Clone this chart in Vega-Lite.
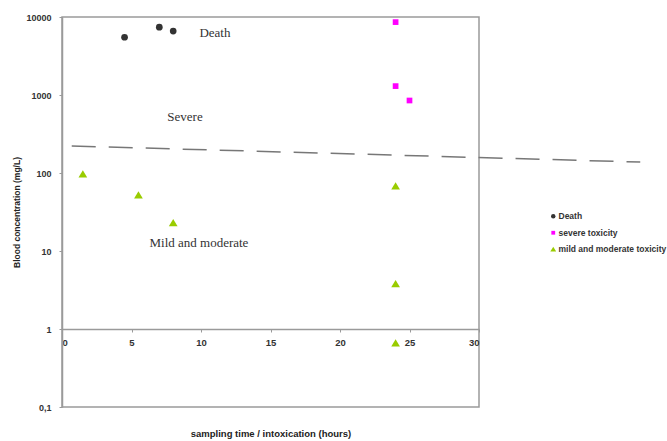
{
  "$schema": "https://vega.github.io/schema/vega-lite/v6.json",
  "width": 417,
  "height": 390,
  "autosize": {"type": "none"},
  "padding": {"left": 62, "top": 17, "right": 188, "bottom": 34},
  "background": "white",
  "config": {
    "view": {"stroke": "#9a9a9a", "strokeWidth": 1.5},
    "axis": {
      "grid": false,
      "domainColor": "#9a9a9a",
      "domainWidth": 1.5,
      "tickColor": "#9a9a9a",
      "labelFont": "Liberation Sans",
      "labelFontWeight": "bold",
      "labelColor": "#333333",
      "titleFont": "Liberation Sans",
      "titleFontWeight": "bold",
      "titleColor": "#222222"
    }
  },
  "datasets": {
    "points": [
      {"series": "Death", "time": 4.5, "conc": 5500},
      {"series": "Death", "time": 7.0, "conc": 7400},
      {"series": "Death", "time": 8.0, "conc": 6600},
      {"series": "severe toxicity", "time": 24.0, "conc": 8600},
      {"series": "severe toxicity", "time": 24.0, "conc": 1300},
      {"series": "severe toxicity", "time": 25.0, "conc": 850},
      {"series": "mild and moderate toxicity", "time": 1.5, "conc": 97},
      {"series": "mild and moderate toxicity", "time": 5.5, "conc": 52},
      {"series": "mild and moderate toxicity", "time": 8.0, "conc": 23},
      {"series": "mild and moderate toxicity", "time": 24.0, "conc": 68},
      {"series": "mild and moderate toxicity", "time": 24.0, "conc": 3.8},
      {"series": "mild and moderate toxicity", "time": 24.0, "conc": 0.66}
    ],
    "threshold": [
      {"time": 0.7, "conc": 222},
      {"time": 41.6, "conc": 138}
    ],
    "labels": [
      {"label": "Death", "time": 11.0, "conc": 6200},
      {"label": "Severe", "time": 8.85, "conc": 525},
      {"label": "Mild and moderate", "time": 9.85, "conc": 12.6}
    ]
  },
  "layer": [
    {
      "data": {"name": "threshold"},
      "mark": {"type": "line", "strokeDash": [24, 13], "color": "#777777", "strokeWidth": 1.5, "clip": false},
      "encoding": {
        "x": {"field": "time", "type": "quantitative"},
        "y": {"field": "conc", "type": "quantitative"}
      }
    },
    {
      "data": {"name": "points"},
      "mark": {"type": "point", "filled": true, "opacity": 1, "size": 45},
      "encoding": {
        "x": {
          "field": "time",
          "type": "quantitative",
          "scale": {"domain": [0, 30], "nice": false, "zero": false},
          "axis": {
            "values": [0, 5, 10, 15, 20, 25, 30],
            "offset": -78,
            "tickSize": 3,
            "labelPadding": 5,
            "labelFontSize": 9.5,
            "title": "sampling time / intoxication (hours)",
            "titleFontSize": 9.5,
            "titlePadding": 82
          }
        },
        "y": {
          "field": "conc",
          "type": "quantitative",
          "scale": {"type": "log", "domain": [0.1, 10000], "nice": false},
          "axis": {
            "values": [0.1, 1, 10, 100, 1000, 10000],
            "labelExpr": "datum.value < 1 ? '0,1' : format(datum.value, 'd')",
            "tickSize": 3,
            "labelPadding": 8,
            "labelFontSize": 9,
            "title": "Blood concentration (mg/L)",
            "titleFontSize": 8.5,
            "titlePadding": 4
          }
        },
        "color": {
          "field": "series",
          "type": "nominal",
          "scale": {
            "domain": ["Death", "severe toxicity", "mild and moderate toxicity"],
            "range": ["#333333", "#ff00ff", "#99cc00"]
          },
          "legend": {
            "orient": "none",
            "legendX": 487,
            "legendY": 195,
            "title": null,
            "labelFont": "Liberation Sans",
            "labelFontWeight": "bold",
            "labelFontSize": 8.5,
            "labelColor": "#333333",
            "symbolSize": 20,
            "rowPadding": 7.5,
            "labelOffset": 1
          }
        },
        "shape": {
          "field": "series",
          "type": "nominal",
          "scale": {
            "domain": ["Death", "severe toxicity", "mild and moderate toxicity"],
            "range": ["circle", "M-0.85,-0.85H0.85V0.85H-0.85Z", "M0,-1.15L1.3,1L-1.3,1Z"]
          }
        }
      }
    },
    {
      "data": {"name": "labels"},
      "mark": {"type": "text", "font": "Liberation Serif", "fontSize": 13, "color": "#333333"},
      "encoding": {
        "x": {"field": "time", "type": "quantitative"},
        "y": {"field": "conc", "type": "quantitative"},
        "text": {"field": "label"}
      }
    }
  ]
}
